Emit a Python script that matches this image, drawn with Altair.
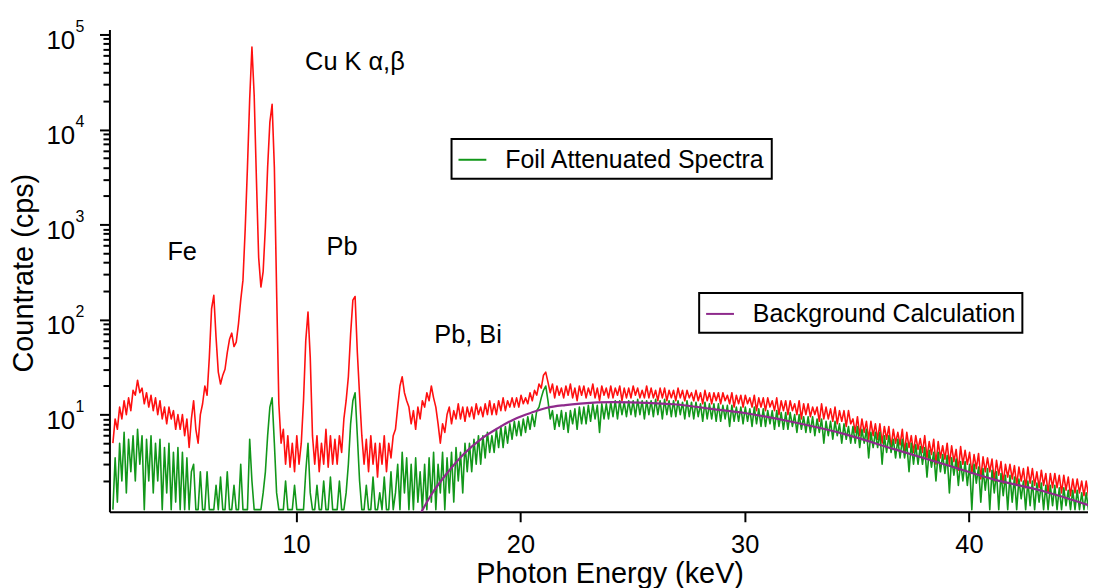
import altair as alt
import pandas as pd

FONT = "Liberation Sans"
RED = "#ff1010"
GREEN = "#12971a"
PURPLE = "#8e2a8c"

# channel grid of the spectra (keV): first channel and spacing
E0 = 1.83
STEP = 0.1

# Full spectrum (counts/s), one row per keV starting at 1.83, 2.83, ...
red_rows = [
    [5, 9, 7, 12, 9, 14, 10, 15, 11, 18],
    [16, 23, 17, 19, 13, 17, 12, 16, 11, 15],
    [10, 14, 9, 12, 8, 12, 9, 11, 7, 10],
    [7, 10, 6, 9, 4.5, 9, 14, 7, 5, 10],
    [13, 20, 16, 40, 130, 180, 65, 28, 21, 26],
    [30, 45, 62, 72, 52, 58, 90, 160, 260, 900],
    [4000, 21000, 74000, 23000, 3000, 450, 220, 320, 950, 4000],
    [12000, 18400, 4000, 200, 13, 5, 7, 3, 6, 2.8],
    [5, 2.5, 6, 3, 5, 14, 60, 120, 40, 6],
    [3, 6, 2.5, 5, 3, 7, 2.8, 6, 3, 5.5],
    [3, 6, 4, 9, 14, 25, 70, 160, 175, 45],
    [16, 6, 3, 5.5, 2.5, 6, 3, 5, 2.2, 5],
    [3, 6, 2.5, 5, 3.5, 6, 7, 12, 20, 25],
    [17, 14, 12, 8, 11, 7, 12, 9, 14, 12],
    [17, 14, 20, 15, 12, 8, 5, 8, 6.5, 10],
    [12, 8, 11, 9, 13, 9, 12, 8.5, 12, 9.5],
    [12, 9, 13, 10, 12, 9.5, 13, 10, 14, 10],
    [13, 10, 14, 11, 15, 11, 14, 12, 15, 12],
    [15, 12, 16, 13, 15, 13, 17, 14, 18, 16],
    [21, 19, 26, 28, 22, 17, 21, 15, 20, 16],
    [19, 15, 20, 16, 21, 15, 19, 14, 20, 16],
    [20, 15, 19, 16, 21, 15, 19, 14, 20, 16],
    [19, 15, 20, 15, 19, 16, 20, 14, 19, 15],
    [19, 15, 20, 16, 19, 15, 18, 15, 20, 15],
    [19, 15, 18, 14, 19, 15, 19, 14, 18, 15],
    [18, 14, 19, 15, 18, 14, 18, 15, 17, 14],
    [18, 14, 17, 13, 18, 14, 17, 13, 17, 14],
    [17, 13, 17, 14, 16, 13, 17, 12, 16, 13],
    [16, 12, 16, 13, 15, 12, 16, 11, 15, 12],
    [15, 11, 15, 12, 14, 11, 15, 10, 14, 11],
    [14, 10, 14, 11, 13, 10, 14, 9, 13, 10],
    [13, 9.5, 12, 10, 12, 8.5, 13, 9, 12, 9],
    [11.5, 8.5, 12, 8, 11, 8.5, 11, 7.5, 11, 8],
    [9, 6.5, 9.5, 6, 9, 6.5, 8.5, 5.5, 8.5, 6],
    [8, 5.5, 8, 5, 7.5, 5.5, 7.5, 4.5, 7, 5],
    [6.5, 4.8, 7, 4, 6.5, 4.5, 6, 4, 6, 4.3],
    [5.6, 4, 6, 3.5, 5.2, 3.8, 5.5, 3, 5.2, 3.5],
    [4.7, 3.4, 5, 3, 4.7, 3.2, 4.3, 2.6, 4.6, 3],
    [4.2, 3, 4, 2.4, 3.8, 2.7, 3.9, 2.1, 3.6, 2.5],
    [3.5, 2.5, 3.4, 2, 3.3, 2.3, 3.2, 1.9, 3, 2.2],
    [3, 2.1, 2.9, 1.8, 2.8, 2, 2.7, 1.7, 2.8, 1.9],
    [2.7, 1.8, 2.5, 1.7, 2.6, 1.8, 2.4, 1.5, 2.4, 1.7],
    [2.4, 1.7, 2.3, 1.5, 2.3, 1.6, 2.2, 1.4, 2.1, 1.5],
    [2.1, 1.5, 2, 1.4, 2, 1.4, 1.9, 1.3, 1.9, 1.4],
]

# Foil attenuated spectrum (counts/s), same channel grid
green_rows = [
    [1, 3.5, 1.2, 5, 2, 6.5, 1.5, 5.5, 2.5, 6],
    [2, 7, 3, 6, 1, 5.5, 2, 6, 1.5, 5],
    [2, 5.5, 1, 4.5, 1.5, 5, 1, 4, 1.2, 4.5],
    [1, 4, 1, 3.5, 1, 2.5, 3, 1, 1, 2.5],
    [1, 1, 2.5, 1, 1, 1, 1.8, 1, 2.2, 1],
    [1, 2.5, 1, 1, 1.8, 1, 1, 3, 1, 1],
    [1, 5.5, 2, 1, 1, 1, 1, 1.5, 2.5, 6],
    [12, 15, 5, 1.5, 1, 1, 1, 2, 1, 1],
    [1, 1.8, 1, 1, 1, 1, 2.5, 5, 1.5, 1],
    [1, 1.8, 1, 1, 2, 1, 1, 2.2, 1, 1],
    [1, 2, 1, 1, 1.5, 3, 8, 14, 17, 6],
    [2, 1, 1, 1.8, 1, 1, 2.2, 1, 1, 1.5],
    [1, 2.2, 1, 1, 2.5, 1, 1.5, 3, 1, 4],
    [1.5, 3.5, 1, 3, 1, 3.5, 1.2, 2.5, 1, 3],
    [1, 3.5, 1.2, 4, 1, 3, 1.5, 4, 1, 3.5],
    [1.5, 4, 1.2, 4.5, 2, 4, 1.5, 5, 2.5, 5],
    [2.5, 5.5, 3, 6, 3, 6, 3.5, 6.5, 4, 6],
    [4, 7, 4.5, 7.5, 4.5, 7.5, 5, 8, 5.5, 8.5],
    [6, 8.5, 6, 9, 6.5, 9.5, 7, 10, 7.5, 11],
    [12, 15, 18, 20, 14, 9, 11, 7, 10, 7.5],
    [11, 7, 10.5, 6.5, 11, 8, 11.5, 7, 12, 8],
    [12, 8, 12.5, 8.5, 13, 9, 12.5, 6.5, 13, 9],
    [13, 9, 13.5, 9.5, 14, 9, 14, 10, 13.5, 9.5],
    [14, 10, 14, 9.5, 14.5, 10, 14, 9, 14, 10],
    [14, 9.5, 14.5, 10, 14, 9, 14.5, 10, 14, 9.5],
    [14, 9.5, 14, 10, 13.5, 9, 14, 9.5, 13.5, 9],
    [13.5, 9.5, 13, 8.5, 13.5, 9, 13, 9, 13, 8.5],
    [13, 8.5, 12.5, 9, 12.5, 7.5, 12.5, 8.5, 12, 8.5],
    [12, 8, 12, 8.5, 11.5, 7.5, 12, 8, 11.5, 7.5],
    [11.5, 7.5, 11, 8, 11, 7, 11, 7.5, 10.5, 7],
    [10.5, 7, 10.5, 7.5, 10, 6.5, 10, 7, 9.5, 6.5],
    [9.5, 6.5, 9.5, 6, 9, 6.5, 9, 5, 8.5, 6],
    [8.5, 5.5, 8.5, 6, 8, 5, 8, 5.5, 7.5, 5],
    [7.5, 5, 7.5, 4.5, 7, 5, 7, 3.5, 6.5, 4.5],
    [6.5, 4.5, 6.5, 3, 6, 4, 6, 4, 5.5, 3.5],
    [5.5, 3.5, 5.5, 3.5, 5, 2.5, 5, 3, 4.8, 3],
    [4.6, 3, 4.5, 2.2, 4.2, 2.8, 4, 2, 4, 2.5],
    [3.8, 2.4, 3.7, 1.5, 3.5, 2.3, 3.4, 1.8, 3.2, 2],
    [3.2, 1.8, 3, 1, 3, 1.9, 2.8, 1.2, 2.7, 1.6],
    [2.7, 1, 2.6, 1.5, 2.5, 1, 2.4, 1.4, 2.3, 1],
    [2.3, 1.2, 2.2, 1, 2.1, 1.3, 2, 1, 2, 1.1],
    [2, 1, 1.9, 1.2, 1.9, 1, 1.8, 1, 1.8, 1.1],
    [1.8, 1, 1.7, 1, 1.7, 1.1, 1.6, 1, 1.6, 1],
    [1.6, 1, 1.5, 1, 1.5, 1, 1.5, 1, 1.4, 1],
]

# Background calculation curve
bg_energy = [15.57, 16.0, 16.75, 17.5, 18.23, 19.0, 19.71, 20.5, 21.19, 22.0, 22.66,
             24.15, 25.63, 27.11, 28.5, 30.0, 32.3, 34.5, 36.7, 38.9, 41.1, 43.3, 45.4]
bg_counts = [0.93, 1.4, 2.45, 3.9, 5.5, 7.2, 8.9, 10.5, 11.8, 12.6, 13.05,
             13.5, 13.3, 12.7, 11.5, 10.4, 8.2, 6.2, 4.3, 3.0, 2.08, 1.57, 1.1]

# Peak annotations
ann_text = ["Cu K α,β", "Fe", "Pb", "Pb, Bi"]
ann_energy = [10.40, 4.26, 11.36, 16.16]
ann_counts = [42000, 427, 473, 57.2]

x_ticks = [10, 20, 30, 40]
y_ticks = [m * 10 ** k for k in range(0, 5) for m in range(1, 10)][1:] + [100000]
decades = [10, 100, 1000, 10000, 100000]
exponents = ["1", "2", "3", "4", "5"]

red_vals = [v for row in red_rows for v in row]
green_vals = [v for row in green_rows for v in row]
energies = [round(E0 + STEP * i, 2) for i in range(len(red_vals))]

PAD = "\u00a0\u00a0\u00a0\u00a0"
red_df = pd.DataFrame({"energy": energies, "counts": red_vals})
green_df = pd.DataFrame({"energy": energies, "counts": green_vals,
                         "series": "Foil Attenuated Spectra" + PAD})
bg_df = pd.DataFrame({"energy": bg_energy, "counts": bg_counts,
                      "series": "Background Calculation" + PAD})
ann_df = pd.DataFrame({"energy": ann_energy, "counts": ann_counts, "label": ann_text})
exp_df = pd.DataFrame({"counts": decades, "label": exponents})

xscale = alt.Scale(domain=[1.676, 45.31], nice=False, zero=False)
yscale = alt.Scale(type="log", domain=[0.948, 113000], nice=False)

major = "abs(log(datum.value)/LN10 - round(log(datum.value)/LN10)) < 0.001"

x_axis = alt.Axis(
    values=x_ticks, title="Photon Energy (keV)", tickSize=10, tickWidth=2,
    labelFontSize=25.5, labelPadding=31, labelBaseline="alphabetic",
    titleFontSize=29, titleX=503, titleY=71,
    titleBaseline="alphabetic", titleAlign="center",
)
y_axis = alt.Axis(
    values=y_ticks, title="Countrate (cps)",
    tickSize={"condition": {"test": major, "value": 10}, "value": 6.5},
    tickWidth=2, labelFontSize=26, labelPadding=25, labelOffset=14,
    labelBaseline="alphabetic", labelOverlap=False,
    labelExpr=major + " ? '10' : ''",
    titleFontSize=29, titleAngle=270, titleX=-77, titleY=244.5,
    titleBaseline="alphabetic", titleAlign="center",
)

x_enc = alt.X("energy:Q", scale=xscale, axis=x_axis)
y_enc = alt.Y("counts:Q", scale=yscale, axis=y_axis)

legend_common = dict(
    title=None, orient="none", symbolType="stroke", symbolSize=784,
    symbolStrokeWidth=2, labelFontSize=25, labelFont=FONT, labelColor="black",
    labelLimit=600, strokeColor="black", fillColor="white", padding=6, labelOffset=18,
)

red = alt.Chart(red_df).mark_line(color=RED, strokeWidth=1.6, strokeJoin="round", clip=True).encode(
    x=x_enc, y=y_enc
)
green = alt.Chart(green_df).mark_line(strokeWidth=1.6, strokeJoin="round", clip=True).encode(
    x=alt.X("energy:Q", scale=xscale),
    y=alt.Y("counts:Q", scale=yscale),
    color=alt.Color("series:N", scale=alt.Scale(range=[GREEN]),
                    legend=alt.Legend(legendX=344, legendY=110, **legend_common)),
)
bg = alt.Chart(bg_df).mark_line(strokeWidth=2.2, interpolate="monotone", clip=True).encode(
    x=alt.X("energy:Q", scale=xscale),
    y=alt.Y("counts:Q", scale=yscale),
    stroke=alt.Stroke("series:N", scale=alt.Scale(range=[PURPLE]),
                      legend=alt.Legend(legendX=593, legendY=265, **legend_common)),
)
ann = alt.Chart(ann_df).mark_text(align="left", baseline="alphabetic", fontSize=25.5, font=FONT,
                                  color="black").encode(
    x=alt.X("energy:Q", scale=xscale),
    y=alt.Y("counts:Q", scale=yscale),
    text="label:N",
)
# superscript exponents of the y tick labels (10^k)
exps = alt.Chart(exp_df).mark_text(align="left", baseline="alphabetic", fontSize=16, font=FONT,
                                   color="black", dy=-3).encode(
    x=alt.value(-34),
    y=alt.Y("counts:Q", scale=yscale),
    text="label:N",
)

chart = (
    alt.layer(red, green, bg, ann, exps)
    .properties(width=984, height=485, autosize=alt.AutoSizeParams(type="none"),
                padding={"left": 102, "top": 20, "right": 0, "bottom": 75})
    .configure_view(stroke=None)
    .configure_axis(grid=False, domainColor="black", domainWidth=2, tickColor="black",
                    labelColor="black", titleColor="black", labelFont=FONT, titleFont=FONT,
                    titleFontWeight="normal")
    .configure_legend(strokeWidth=2)
)

chart.save("out.html", embed_options={"renderer": "svg", "actions": False})
